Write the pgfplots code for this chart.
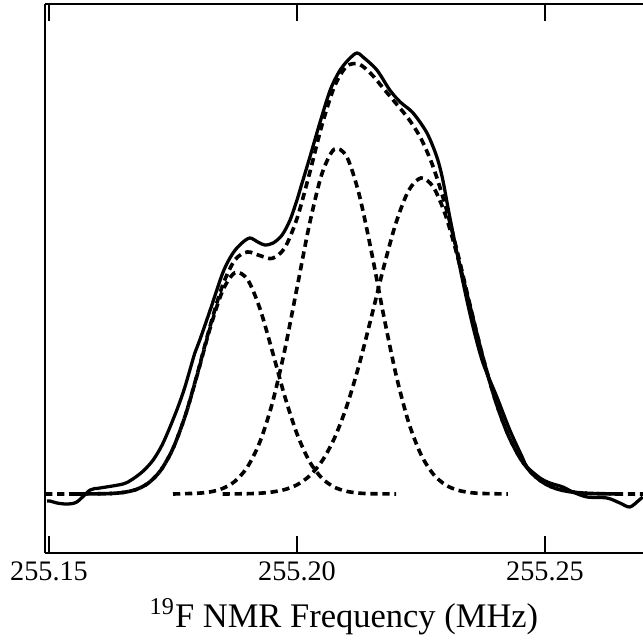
\documentclass[border=0pt]{standalone}
\usepackage{fontspec}
\setmainfont{Liberation Serif}
\usepackage{pgfplots}
\pgfplotsset{compat=1.18}
% x is kHz above 255.15 MHz (keeps pgfplots' float precision), y in arbitrary units
\begin{document}
\begin{tikzpicture}
\begin{axis}[
  scale only axis, width=239.2pt, height=219.6pt,
  xmin=-0.81, xmax=119.76, ymin=-59, ymax=490,
  axis x line=box, axis y line*=left, y axis line style={-},
  axis line style={line width=0.8pt},
  ytick=\empty,
  xtick={0,50,100}, xticklabels={255.15,255.20,255.25},
  tick align=inside, major tick length=6.8pt,
  tick style={line width=0.8pt, black},
  /pgf/number format/assume math mode=true,
  tick label style={font=\fontsize{11.3}{13}\selectfont},
  xlabel={\textsuperscript{19}F NMR Frequency (MHz)},
  label style={font=\fontsize{13.8}{16}\selectfont},
  every axis plot/.append style={smooth},
  fit/.style={black, line width=1.45pt, dash pattern=on 2.9pt off 1.9pt},
]
\coordinate (bl) at (rel axis cs:0,0);
\coordinate (tr) at (rel axis cs:1,1);
% fitted components
\addplot[fit] coordinates {
(5,0)(10,0.2)(12.5,0.5)(15,1.6)(17.5,4.4)(20,10.8)(22.5,23.5)(25,45.5)(27.5,78.7)
(30,121.2)(32.5,166.2)(35,203.2)(37.5,221.3)(40,214.7)(42.5,185.7)(45,143.1)
(47.5,98.2)(50,60.1)(52.5,32.7)(55,15.9)(57.5,6.9)(60,2.7)(62.5,0.9)(65,0.3)(70,0)};
\addplot[fit] coordinates {
(25,0)(30,0.8)(32.5,2.1)(35,5.5)(37.5,12.8)(40,27.0)(42.5,51.9)(45,90.5)(47.5,143.3)
(50,206.2)(52.5,269.4)(55,319.8)(57.5,344.7)(60,337.5)(62.5,300.1)(65,242.4)
(67.5,177.8)(70,118.5)(72.5,71.7)(75,39.4)(77.5,19.7)(80,8.9)(82.5,3.7)(85,1.4)
(87.5,0.5)(92.5,0)};
\addplot[fit] coordinates {
(35,0)(40,0.3)(42.5,0.8)(45,2.0)(47.5,4.4)(50,9.2)(52.5,18.0)(55,32.6)(57.5,55.3)
(60,87.4)(62.5,128.8)(65,177.1)(67.5,227.2)(70,271.8)(72.5,303.4)(75,316.0)
(77.5,306.8)(80,278.0)(82.5,234.9)(85,185.2)(87.5,136.2)(90,93.4)(92.5,59.8)
(95,35.7)(97.5,19.9)(100,10.3)(102.5,5.0)(105,2.3)(107.5,1.0)(110,0.4)(115,0)};
% sum of components
\addplot[fit] coordinates {
(-0.8,0)(5,0)(10,0.2)(12.5,0.5)(15,1.6)(17.5,4.4)(20,10.8)(22.5,23.5)(25,45.6)
(27.5,78.9)(30,122.0)(32.5,168.3)(35,208.7)(37.5,234.2)(40,242.0)(42.5,238.4)
(45,235.6)(47.5,245.9)(50,275.5)(52.5,320.1)(55,368.3)(57.5,406.9)(60,427.6)
(62.5,429.8)(65,419.8)(67.5,405.1)(70,390.3)(72.5,375.1)(75,355.4)(77.5,326.5)
(80,286.9)(82.5,238.6)(85,186.6)(87.5,136.7)(90,93.6)(92.5,59.8)(95,35.7)
(97.5,19.9)(100,10.3)(102.5,5.0)(105,2.3)(107.5,1.0)(110,0.4)(115,0)(119.8,0)};
% measured spectrum
\addplot[black, line width=1.3pt, tension=0.5] coordinates {
(-0.4,-7)(0.2,-7)(1.6,-9)(3.6,-10)(5.6,-8)(8.3,4)(10.3,6)(14.9,10)(16.9,15)
(19.0,23)(21.0,34)(22.8,49)(24.4,67)(26.0,87)(27.4,107)(29.4,141)(30.4,154)
(32.5,184)(35.1,222)(37.1,241)(38.9,251)(40.5,256)(42.1,252)(43.5,249)(45.2,251)
(47.0,259)(48.6,274)(50.0,294)(50.6,304)(52.6,337)(54.6,371)(56.7,404)(58.7,424)
(60.7,436)(62.1,441)(63.3,437)(66.1,424)(68.7,404)(70.8,392)(73.4,381)(76.2,361)
(78.2,337)(79.4,314)(80.8,277)(83.5,211)(85.5,167)(87.5,131)(90.3,97)(92.9,64)
(95.4,37)(96.4,27)(99.0,16)(101.0,11)(103.6,7)(105.6,2)(108.5,-3)(112.5,-4)
(115.1,-9)(117.1,-13)(119.0,-6)(119.7,-3)};
\end{axis}
\pgfresetboundingbox
\path ([xshift=-18pt,yshift=-36pt]bl) rectangle ([yshift=1.6pt]tr);
\end{tikzpicture}
\end{document}
